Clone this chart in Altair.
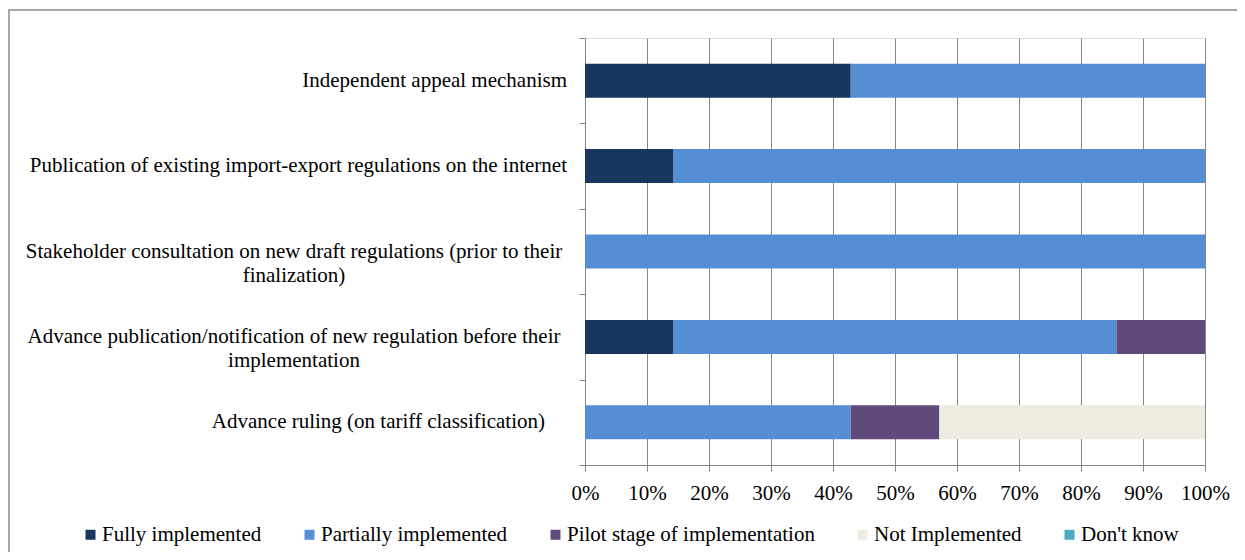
import altair as alt
import pandas as pd

categories = [
    "Independent appeal mechanism",
    "Publication of existing import-export regulations on the internet",
    "Stakeholder consultation on new draft regulations (prior to their\nfinalization)",
    "Advance publication/notification of new regulation before their\nimplementation",
    "Advance ruling (on tariff classification)",
]
# how each category label is set beside its bar (as in the original)
label_style = ["right", "right", "center", "center", "right-inset"]

series = [
    "Fully implemented",
    "Partially implemented",
    "Pilot stage of implementation",
    "Not Implemented",
    "Don't know",
]
colors = ["#17375E", "#558ED5", "#604A7B", "#EEECE1", "#4BACC6"]

fully = [42.86, 14.29, 0, 14.29, 0]
partially = [57.14, 85.71, 100, 71.43, 42.86]
pilot = [0, 0, 0, 14.29, 14.29]
not_impl = [0, 0, 0, 0, 42.86]
dont_know = [0, 0, 0, 0, 0]
x_ticks = [0, 10, 20, 30, 40, 50, 60, 70, 80, 90, 100]

series_values = [fully, partially, pilot, not_impl, dont_know]
rows = []
for si, (s, vals) in enumerate(zip(series, series_values)):
    for c, v in zip(categories, vals):
        rows.append({"category": c, "series": s, "value": v, "sorder": si})
df = pd.DataFrame(rows)
labels_df = pd.DataFrame({"category": categories, "style": label_style})

FONT = "Liberation Serif"
GRAY = "#868686"

y_enc = alt.Y(
    "category:N",
    sort=categories,
    scale=alt.Scale(paddingInner=0, paddingOuter=0),
    axis=alt.Axis(
        title=None,
        grid=False,
        labels=False,
        tickBand="extent",
        domainColor=GRAY,
        tickColor=GRAY,
        tickSize=6,
    ),
)

bars = alt.Chart(df).mark_bar(size=34).encode(
    x=alt.X(
        "value:Q",
        stack="zero",
        scale=alt.Scale(domain=[0, 100], nice=False),
        axis=alt.Axis(
            values=x_ticks,
            labelExpr="datum.value + '%'",
            labelOverlap=False,
            labelFlush=False,
            title=None,
            grid=True,
            gridColor=GRAY,
            gridWidth=1,
            domainColor=GRAY,
            tickColor=GRAY,
            tickSize=6,
            labelPadding=11,
            labelFont=FONT,
            labelFontSize=21,
            labelColor="black",
        ),
    ),
    y=y_enc,
    color=alt.Color(
        "series:N",
        scale=alt.Scale(domain=series, range=colors),
        legend=alt.Legend(
            title=None,
            orient="none",
            direction="horizontal",
            legendX=-505,
            legendY=486,
            symbolType="square",
            symbolSize=100,
            labelFont=FONT,
            labelFontSize=21,
            labelColor="black",
            labelOffset=1,
            columnPadding=37,
            padding=0,
            labelLimit=400,
        ),
    ),
    order=alt.Order("sorder:Q"),
)

text_props = dict(baseline="middle", lineBreak="\n", lineHeight=24,
                  font=FONT, fontSize=21, color="black")

lab_right = alt.Chart(labels_df).transform_filter(
    alt.datum.style == "right"
).mark_text(align="right", **text_props).encode(
    y=alt.Y("category:N", sort=categories), text="category:N", x=alt.value(-18)
)
lab_inset = alt.Chart(labels_df).transform_filter(
    alt.datum.style == "right-inset"
).mark_text(align="right", **text_props).encode(
    y=alt.Y("category:N", sort=categories), text="category:N", x=alt.value(-40)
)
lab_center = alt.Chart(labels_df).transform_filter(
    alt.datum.style == "center"
).mark_text(align="center", **text_props).encode(
    y=alt.Y("category:N", sort=categories), text="category:N", x=alt.value(-291)
)

frame = alt.Chart(alt.Data(values=[{"f": 1}])).mark_rect(
    fill="transparent", stroke="#8a8a8a", strokeWidth=1.5
).encode(
    x=alt.value(-576), x2=alt.value(700), y=alt.value(-28), y2=alt.value(600)
)

chart = alt.layer(frame, bars, lab_right, lab_inset, lab_center).properties(
    width=620,
    height=427,
    padding={"left": 577, "top": 30, "right": 32, "bottom": 87},
    autosize=alt.AutoSizeParams(type="none"),
).configure_view(stroke=None).configure(background="white")

chart.save("out.html", embed_options={"renderer": "svg", "actions": False})
